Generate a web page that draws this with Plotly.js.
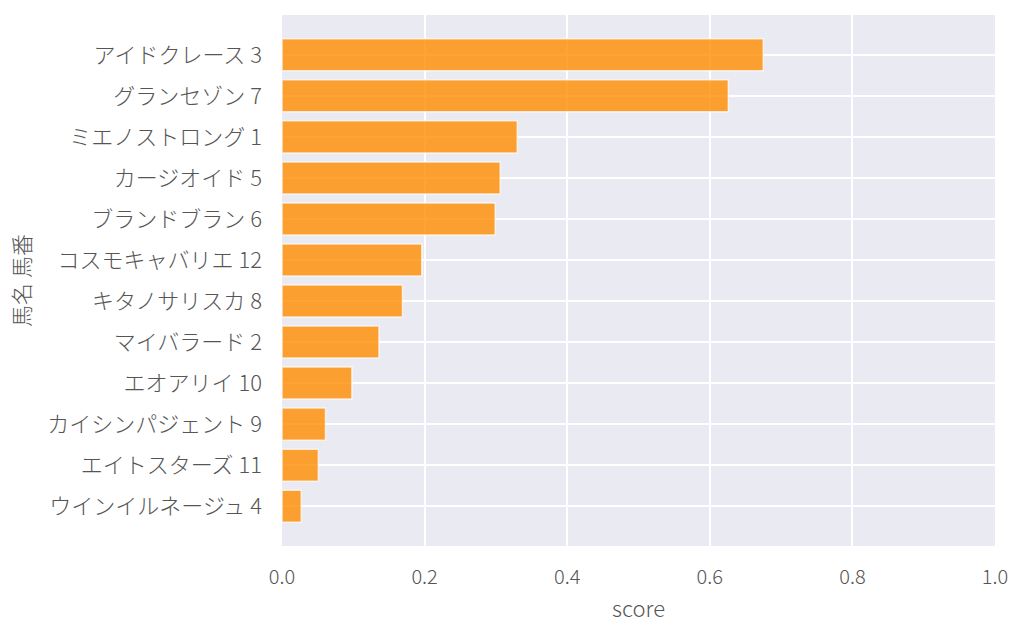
<!DOCTYPE html>
<html>
<head>
<meta charset="utf-8">
<script src="https://cdn.plot.ly/plotly-3.0.1.min.js"></script>
<style>html,body{margin:0;padding:0;background:#fff;}#chart{width:1024px;height:638px;}</style>
</head>
<body>
<div id="chart"></div>
<script>
const horses = ["アイドクレース 3","グランセゾン 7","ミエノストロング 1","カージオイド 5","ブランドブラン 6","コスモキャバリエ 12","キタノサリスカ 8","マイバラード 2","エオアリイ 10","カイシンパジェント 9","エイトスターズ 11","ウインイルネージュ 4"];
const scores = [0.675,0.626,0.330,0.306,0.299,0.196,0.169,0.136,0.098,0.061,0.051,0.027];
const xTicks = [0,0.2,0.4,0.6,0.8,1.0];
const xTickText = ["0.0","0.2","0.4","0.6","0.8","1.0"];

const fontFam = '"Noto Sans CJK JP", "Noto Sans", sans-serif';
const data = [{
  type: 'bar',
  orientation: 'h',
  x: scores,
  y: horses,
  width: 0.78,
  marker: {color: 'rgba(255,140,0,0.8)', line: {color: 'rgba(255,255,255,0.7)', width: 1.5}},
  hoverinfo: 'x+y'
}];
const layout = {
  width: 1024, height: 638,
  margin: {l: 282, r: 29, t: 15, b: 92},
  paper_bgcolor: '#ffffff',
  plot_bgcolor: '#EAEAF2',
  font: {family: fontFam, color: '#555555', size: 20, weight: 300},
  showlegend: false,
  xaxis: {
    range: [0, 1],
    tickvals: xTicks, ticktext: xTickText,
    showgrid: true, gridcolor: '#ffffff', gridwidth: 2,
    zeroline: false, showline: false, ticks: '',
    ticklabelstandoff: 17,
    tickfont: {size: 20, color: '#555555', weight: 300},
    title: {text: 'score', font: {size: 22, color: '#555555', weight: 300}, standoff: 12},
    fixedrange: true
  },
  yaxis: {
    type: 'category',
    categoryorder: 'array', categoryarray: horses,
    range: [11.97, -0.97],
    showgrid: true, gridcolor: '#ffffff', gridwidth: 1.5,
    zeroline: false, showline: false, ticks: '',
    ticklabelstandoff: 19,
    tickfont: {size: 22, color: '#555555', weight: 300},
    title: {text: '馬名 馬番', font: {size: 22, color: '#555555', weight: 300}, standoff: 10},
    fixedrange: true
  }
};
Plotly.newPlot('chart', data, layout, {displayModeBar: false, staticPlot: true});
</script>
</body>
</html>
